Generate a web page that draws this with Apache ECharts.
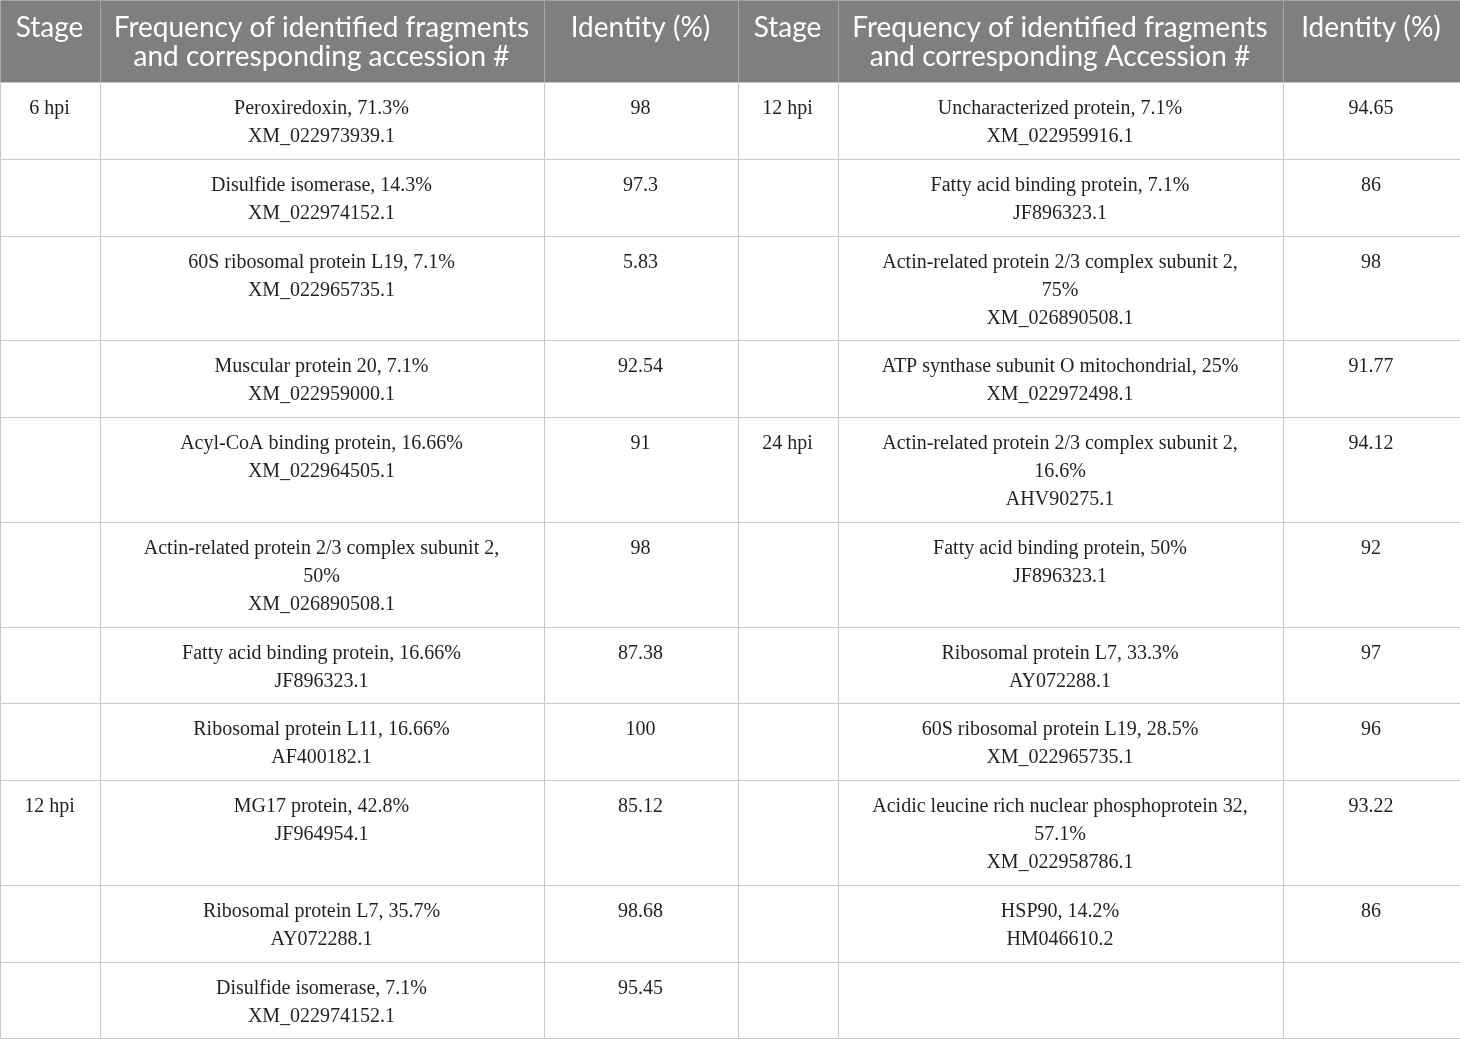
<!DOCTYPE html>
<html lang="en">
<head>
  <meta charset="UTF-8">
  <title>Identified fragments by stage</title>
  <script src="https://cdn.jsdelivr.net/npm/echarts@6/dist/echarts.min.js"></script>
  <style>
    html, body { margin: 0; padding: 0; background: #fff; }
    #table { width: 1460px; height: 1039px; }
  </style>
</head>
<body>
  <div id="table"></div>

  <script>
    // 表头
    const headers = [
      'Stage',
      'Frequency of identified fragments\nand corresponding accession #',
      'Identity (%)',
      'Stage',
      'Frequency of identified fragments\nand corresponding Accession #',
      'Identity (%)'
    ];

    // 左半表
    const stagesLeft = ['6 hpi', '', '', '', '', '', '', '', '12 hpi', '', ''];
    const fragmentsLeft = [
      'Peroxiredoxin, 71.3%\nXM_022973939.1',
      'Disulfide isomerase, 14.3%\nXM_022974152.1',
      '60S ribosomal protein L19, 7.1%\nXM_022965735.1',
      'Muscular protein 20, 7.1%\nXM_022959000.1',
      'Acyl-CoA binding protein, 16.66%\nXM_022964505.1',
      'Actin-related protein 2/3 complex subunit 2,\n50%\nXM_026890508.1',
      'Fatty acid binding protein, 16.66%\nJF896323.1',
      'Ribosomal protein L11, 16.66%\nAF400182.1',
      'MG17 protein, 42.8%\nJF964954.1',
      'Ribosomal protein L7, 35.7%\nAY072288.1',
      'Disulfide isomerase, 7.1%\nXM_022974152.1'
    ];
    const identityLeft = ['98', '97.3', '5.83', '92.54', '91', '98', '87.38', '100', '85.12', '98.68', '95.45'];

    // 右半表
    const stagesRight = ['12 hpi', '', '', '', '24 hpi', '', '', '', '', '', ''];
    const fragmentsRight = [
      'Uncharacterized protein, 7.1%\nXM_022959916.1',
      'Fatty acid binding protein, 7.1%\nJF896323.1',
      'Actin-related protein 2/3 complex subunit 2,\n75%\nXM_026890508.1',
      'ATP synthase subunit O mitochondrial, 25%\nXM_022972498.1',
      'Actin-related protein 2/3 complex subunit 2,\n16.6%\nAHV90275.1',
      'Fatty acid binding protein, 50%\nJF896323.1',
      'Ribosomal protein L7, 33.3%\nAY072288.1',
      '60S ribosomal protein L19, 28.5%\nXM_022965735.1',
      'Acidic leucine rich nuclear phosphoprotein 32,\n57.1%\nXM_022958786.1',
      'HSP90, 14.2%\nHM046610.2',
      ''
    ];
    const identityRight = ['94.65', '86', '98', '91.77', '94.12', '92', '97', '96', '93.22', '86', ''];

    // 布局：列边界和行边界（像素单位的轴）
    const colEdges = [0, 100, 544, 738, 838, 1283, 1460];
    const rowEdges = [0, 82, 159, 236, 340, 417, 522, 627, 703, 780, 885, 962, 1038];

    // 组装单元格 [列, 行, 文本]
    const columns = [stagesLeft, fragmentsLeft, identityLeft, stagesRight, fragmentsRight, identityRight];
    const cells = [];
    headers.forEach((h, c) => cells.push([c, 0, h]));
    columns.forEach((col, c) => {
      col.forEach((txt, r) => cells.push([c, r + 1, txt]));
    });

    function renderCell(params, api) {
      const c = api.value(0);
      const r = api.value(1);
      const text = cells[params.dataIndex][2];
      const p0 = api.coord([colEdges[c], rowEdges[r]]);
      const p1 = api.coord([colEdges[c + 1], rowEdges[r + 1]]);
      const isHeader = r === 0;
      const x = Math.round(p0[0]) + 0.5;
      const y = Math.round(p0[1]) + 0.5;
      const w = Math.round(p1[0] - p0[0]);
      const h = Math.round(p1[1] - p0[1]);
      return {
        type: 'group',
        children: [
          {
            type: 'rect',
            shape: { x: x, y: y, width: w, height: h },
            style: {
              fill: isHeader ? '#7f7f7f' : '#ffffff',
              stroke: isHeader ? '#a6a6a6' : '#c8c8c8',
              lineWidth: 1
            }
          },
          {
            type: 'text',
            style: {
              text: text,
              x: x + w / 2 - 1,
              y: y + (isHeader ? 13 : 12),
              align: 'center',
              verticalAlign: 'top',
              fill: isHeader ? '#ffffff' : '#231f20',
              fontFamily: isHeader ? 'Lato, "Open Sans", sans-serif' : '"Liberation Serif", "Times New Roman", serif',
              fontSize: isHeader ? 28 : 20,
              lineHeight: isHeader ? 29 : 28
            }
          }
        ]
      };
    }

    const chart = echarts.init(document.getElementById('table'));
    chart.setOption({
      animation: false,
      grid: { left: 0, right: 0, top: 0, bottom: 0 },
      xAxis: { type: 'value', min: 0, max: 1460, show: false },
      yAxis: { type: 'value', min: 0, max: 1039, inverse: true, show: false },
      series: [{
        type: 'custom',
        renderItem: renderCell,
        clip: false,
        data: cells.map(d => [d[0], d[1]])
      }]
    });
  </script>
</body>
</html>
